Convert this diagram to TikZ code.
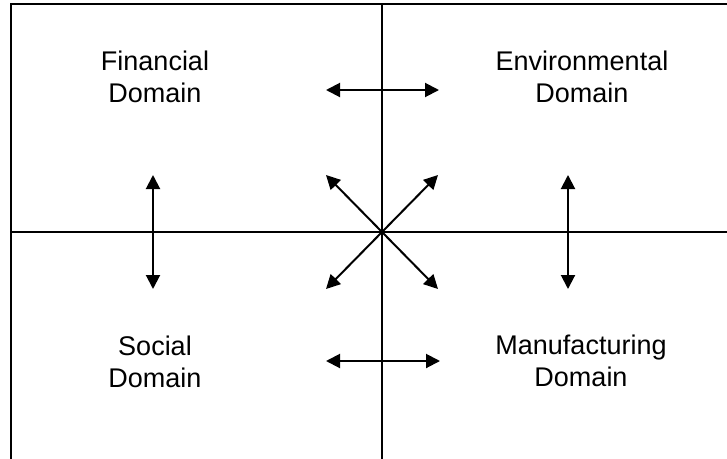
\documentclass[tikz,border=0pt]{standalone}
\usepackage{fontspec}
\setmainfont{Liberation Sans}
\usetikzlibrary{arrows.meta,positioning}

\begin{document}
\begin{tikzpicture}
  [
  x=1pt, y=-1pt,
  font=\fontsize{27}{32}\selectfont,
  line width=2pt,
  >={Triangle[length=14pt,width=14pt]},
  domainnode/.style={align=center, inner sep=0pt},
  gridline/.style={line width=2.4pt},
  link/.style={<->},
  ]
  \useasboundingbox (0,0) rectangle (727,458);
  \clip (0,0) rectangle (727,458);

  % frame and axes
  \draw[gridline] (11,470) -- (11,4) -- (740,4);
  \coordinate (c) at (382,232);
  \draw[gridline] (382,4) -- (382,470);
  \draw[gridline] (11,232) -- (740,232);

  \node[domainnode] (fin) at (155,77) {Financial\\Domain};
  \node[domainnode] (env) at (582,77) {Environmental\\Domain};
  \node[domainnode] (soc) at (155,362) {Social\\Domain};
  \node[domainnode] (man) at (581,361) {Manufacturing\\Domain};

  % arrow ends
  \coordinate (t1) at (326,90);  \coordinate (t2) at (439,90);
  \coordinate (b1) at (326,361); \coordinate (b2) at (440,361);
  \coordinate (l1) at (153,175); \coordinate (l2) at (153,289);
  \coordinate (r1) at (568,175); \coordinate (r2) at (568,289);
  \coordinate (ul) at (326,175); \coordinate (lr) at (438,289);
  \coordinate (ur) at (438,175); \coordinate (ll) at (326,289);

  \draw[link] (t1) -- (t2);
  \draw[link] (b1) -- (b2);
  \draw[link] (l1) -- (l2);
  \draw[link] (r1) -- (r2);
  \draw[link] (ul) -- (lr);
  \draw[link] (ur) -- (ll);

\end{tikzpicture}
\end{document}
